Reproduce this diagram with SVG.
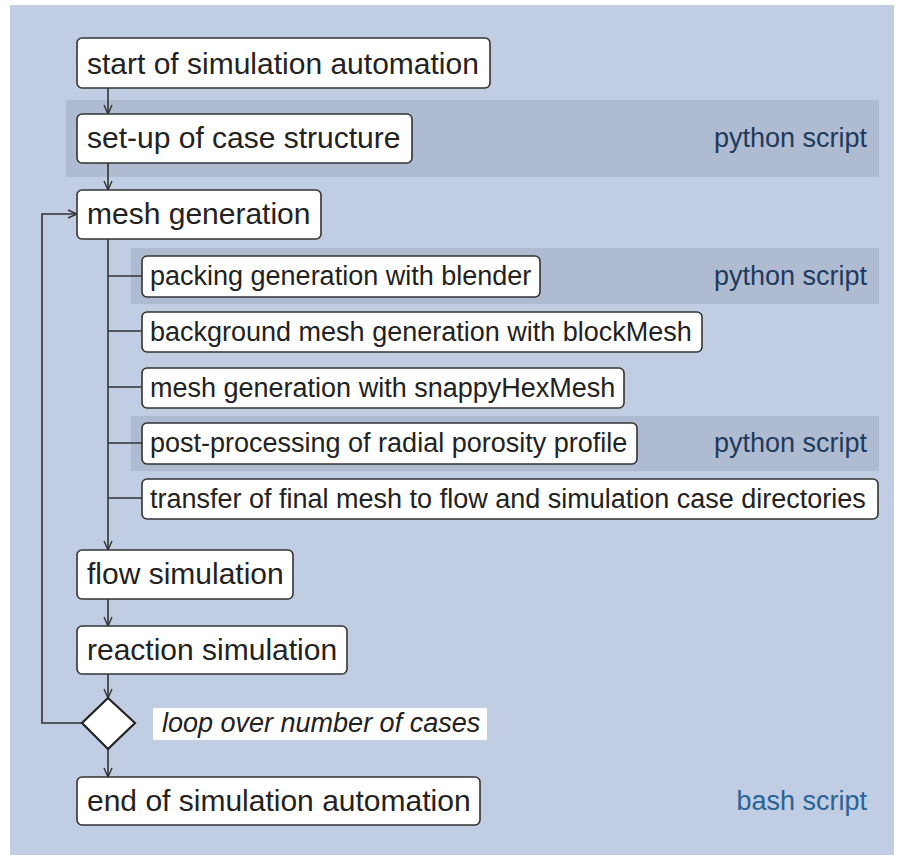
<svg xmlns="http://www.w3.org/2000/svg" width="897" height="855" viewBox="0 0 897 855">
  <defs>
    <marker id="arrow" viewBox="0 0 10 10" refX="10" refY="5" markerWidth="10" markerHeight="10" markerUnits="userSpaceOnUse" orient="auto">
      <path d="M1,1 L10,5 L1,9" fill="none" stroke="#333" stroke-width="1.4"/>
    </marker>
    <style>
      .box { fill: #ffffff; stroke: #333; stroke-width: 1.6; }
      .band { fill: #aebbd0; }
      .main { font-family: "Liberation Sans", Arial, sans-serif; font-size: 30px; fill: #222; }
      .sub { font-family: "Liberation Sans", Arial, sans-serif; font-size: 27px; fill: #222; }
      .py { font-family: "Liberation Sans", Arial, sans-serif; font-size: 27px; fill: #1f3a5c; text-anchor: end; }
      .bash { font-family: "Liberation Sans", Arial, sans-serif; font-size: 27px; fill: #2a6394; text-anchor: end; }
      .loop { font-family: "Liberation Sans", Arial, sans-serif; font-size: 27px; font-style: italic; fill: #222; }
      .line { fill: none; stroke: #333; stroke-width: 1.6; }
    </style>
  </defs>

  <!-- background panel -->
  <rect x="10" y="5" width="884" height="850" fill="#c0cde3"/>

  <!-- python script bands -->
  <g id="bands">
    <rect class="band" x="66" y="100" width="813" height="77"/>
    <rect class="band" x="131" y="248" width="748" height="56"/>
    <rect class="band" x="131" y="416" width="748" height="55"/>
  </g>

  <!-- connectors -->
  <g id="connectors">
    <line class="line" x1="108" y1="88" x2="108" y2="114" marker-end="url(#arrow)"/>
    <line class="line" x1="108" y1="163" x2="108" y2="190" marker-end="url(#arrow)"/>
    <line class="line" x1="108" y1="239" x2="108" y2="550" marker-end="url(#arrow)"/>
    <line class="line" x1="108" y1="276" x2="142" y2="276"/>
    <line class="line" x1="108" y1="331" x2="142" y2="331"/>
    <line class="line" x1="108" y1="387" x2="142" y2="387"/>
    <line class="line" x1="108" y1="443" x2="142" y2="443"/>
    <line class="line" x1="108" y1="498" x2="142" y2="498"/>
    <line class="line" x1="108" y1="599" x2="108" y2="626" marker-end="url(#arrow)"/>
    <line class="line" x1="108" y1="674" x2="108" y2="698" marker-end="url(#arrow)"/>
    <line class="line" x1="108" y1="749" x2="108" y2="777" marker-end="url(#arrow)"/>
    <polyline class="line" points="82,723 42,723 42,214 77,214" marker-end="url(#arrow)"/>
  </g>

  <g id="start">
    <rect class="box" x="77" y="38" width="413" height="50" rx="5"/>
    <text class="main" x="87" y="74">start of simulation automation</text>
  </g>

  <g id="setup">
    <rect class="box" x="77" y="114" width="335" height="49" rx="5"/>
    <text class="main" x="87" y="148">set-up of case structure</text>
  </g>
  <text class="py" x="867" y="147">python script</text>

  <g id="mesh">
    <rect class="box" x="77" y="190" width="244" height="49" rx="5"/>
    <text class="main" x="87" y="224">mesh generation</text>
  </g>

  <g id="packing">
    <rect class="box" x="142" y="256" width="398" height="41" rx="5"/>
    <text class="sub" x="150" y="285">packing generation with blender</text>
  </g>
  <text class="py" x="867" y="285">python script</text>

  <g id="background">
    <rect class="box" x="142" y="312" width="560" height="40" rx="5"/>
    <text class="sub" x="150" y="341">background mesh generation with blockMesh</text>
  </g>

  <g id="snappy">
    <rect class="box" x="142" y="368" width="482" height="40" rx="5"/>
    <text class="sub" x="150" y="397">mesh generation with snappyHexMesh</text>
  </g>

  <g id="postprocessing">
    <rect class="box" x="142" y="423" width="495" height="41" rx="5"/>
    <text class="sub" x="150" y="452">post-processing of radial porosity profile</text>
  </g>
  <text class="py" x="867" y="452">python script</text>

  <g id="transfer">
    <rect class="box" x="142" y="479" width="736" height="40" rx="5"/>
    <text class="sub" x="150" y="508">transfer of final mesh to flow and simulation case directories</text>
  </g>

  <g id="flow">
    <rect class="box" x="77" y="550" width="216" height="49" rx="5"/>
    <text class="main" x="87" y="584">flow simulation</text>
  </g>

  <g id="reaction">
    <rect class="box" x="77" y="626" width="270" height="48" rx="5"/>
    <text class="main" x="87" y="660">reaction simulation</text>
  </g>

  <g id="decision">
    <polygon points="108,698 135,723 108,749 82,723" fill="#ffffff" stroke="#222" stroke-width="2.2"/>
    <rect x="153" y="708" width="334" height="32" fill="#ffffff"/>
    <text class="loop" x="162" y="732">loop over number of cases</text>
  </g>

  <g id="end">
    <rect class="box" x="77" y="777" width="403" height="48" rx="5"/>
    <text class="main" x="87" y="811">end of simulation automation</text>
  </g>
  <text class="bash" x="867" y="810">bash script</text>
</svg>
